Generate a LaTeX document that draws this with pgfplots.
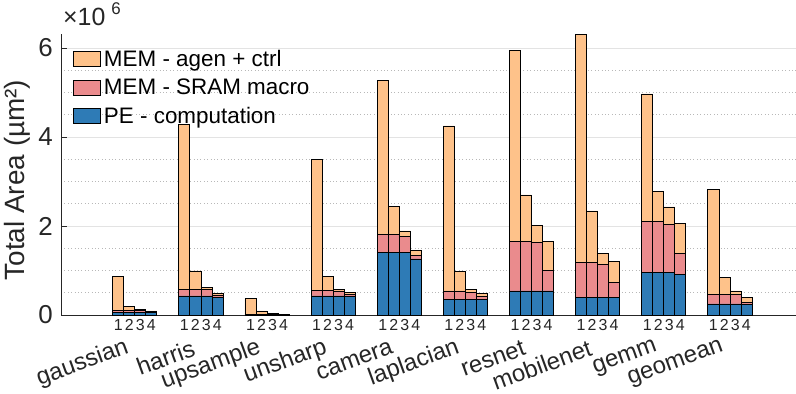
\documentclass[border=0pt]{standalone}
\usepackage{fontspec}
\setmainfont{Liberation Sans}
\usepackage{pgfplots}
\usepackage{pgfplotstable}
\pgfplotsset{compat=1.18}
\definecolor{cagen}{RGB}{254,194,138}
\definecolor{csram}{RGB}{234,139,141}
\definecolor{cpe}{RGB}{46,123,182}
\definecolor{axgray}{RGB}{38,38,38}

% values in units of 10^6 um^2 ; pe = PE computation, sram = SRAM macro, agen = agen + ctrl (stack increments)
\pgfplotstableread{
x   pe     sram   agen
1   0.06   0.05   0.75
2   0.06   0.05   0.08
3   0.06   0.04   0.03
4   0.06   0.02   0.01
7   0.43   0.15   3.71
8   0.43   0.15   0.41
9   0.43   0.14   0.05
10  0.39   0.06   0.04
13  0.01   0.01   0.35
14  0.01   0.01   0.07
15  0.005  0.005  0.03
16  0.005  0.005  0.01
19  0.43   0.13   2.94
20  0.43   0.13   0.30
21  0.43   0.11   0.04
22  0.42   0.04   0.05
25  1.41   0.40   3.47
26  1.41   0.40   0.63
27  1.41   0.36   0.12
28  1.26   0.08   0.12
31  0.35   0.19   3.71
32  0.35   0.19   0.43
33  0.35   0.15   0.08
34  0.35   0.07   0.07
37  0.54   1.12   4.28
38  0.54   1.12   1.04
39  0.54   1.09   0.39
40  0.54   0.47   0.65
43  0.40   0.78   5.12
44  0.40   0.78   1.16
45  0.40   0.74   0.25
46  0.40   0.33   0.48
49  0.95   1.16   2.86
50  0.95   1.16   0.66
51  0.95   1.09   0.39
52  0.92   0.47   0.66
55  0.25   0.21   2.37
56  0.25   0.21   0.38
57  0.25   0.21   0.08
58  0.24   0.05   0.11
}\areadata

\pgfplotsset{myleg/.style={legend image code/.code={\draw[##1, line width=0.8bp] (0bp,-7.5bp) rectangle (27bp,7.5bp);}}}

\begin{document}
\begin{tikzpicture}
\begin{axis}[
  scale only axis, width=735bp, height=281.2bp,
  xmin=-4.19, xmax=62.5, ymin=0, ymax=6.32,
  clip=false,
  ybar stacked, bar width=1,
  axis x line*=bottom, axis y line*=left,
  axis line style={axgray, line width=0.8bp},
  tick align=inside,
  tick style={axgray, line width=0.8bp},
  major tick length=6bp, minor tick length=0pt,
  xtick={1,2,3,4,7,8,9,10,13,14,15,16,19,20,21,22,25,26,27,28,31,32,33,34,37,38,39,40,43,44,45,46,49,50,51,52,55,56,57,58},
  xticklabels={1,2,3,4,1,2,3,4,1,2,3,4,1,2,3,4,1,2,3,4,1,2,3,4,1,2,3,4,1,2,3,4,1,2,3,4,1,2,3,4},
  xtick style={draw=none},
  xticklabel style={font=\fontsize{16}{16}\selectfont, inner sep=0pt, yshift=-4bp, text=black!85},
  extra x ticks={2.5,8.5,14.5,20.5,26.5,32.5,38.5,44.5,50.5,56.5},
  extra x tick labels={gaussian,harris,upsample,unsharp,camera,laplacian,resnet,mobilenet,gemm,geomean},
  extra x tick style={grid=none, xtick style={draw=none},
    xticklabel style={font=\fontsize{24}{24}\selectfont, xshift=-7bp, yshift=-28bp, rotate=20, anchor=east, inner sep=0pt, text=black!85}},
  ytick={0,2,4,6},
  minor y tick num=3,
  ymajorgrids, yminorgrids,
  major grid style={line width=1bp, color=black!11},
  minor grid style={line width=0.8bp, color=black!28, dash pattern=on 0.8bp off 2.6bp},
  yticklabel style={font=\fontsize{26}{26}\selectfont, inner sep=0pt, xshift=-8bp, text=black!85},
  /pgf/number format/assume math mode=true,
  ylabel={Total Area (µm²)},
  ylabel style={font=\fontsize{28}{28}\selectfont, at={(axis description cs:-0.0592,0.48)}, anchor=center, text=black!85},
  legend style={at={(0,1)}, anchor=north west, xshift=12bp, yshift=-16bp, draw=none, fill=none,
    font=\fontsize{22.5}{22.5}\selectfont, row sep=10.5bp, column sep=3bp, inner sep=0pt,
    nodes={inner sep=0pt, text depth=0.2em}, cells={anchor=west}},
  reverse legend,
]
\addplot[fill=cpe, draw=black, line width=0.7bp, myleg] table[x=x, y=pe] {\areadata};
\addplot[fill=csram, draw=black, line width=0.7bp, myleg] table[x=x, y=sram] {\areadata};
\addplot[fill=cagen, draw=black, line width=0.7bp, myleg] table[x=x, y=agen] {\areadata};
\legend{PE - computation, MEM - SRAM macro, MEM - agen + ctrl}
\node[anchor=base west, inner sep=0pt, font=\fontsize{25}{25}\selectfont, text=black!85] at (rel axis cs:0,1) [xshift=2bp, yshift=8bp] {×10\hspace{6bp}\raisebox{11bp}{\fontsize{17}{17}\selectfont 6}};
\end{axis}
\pgfresetboundingbox
\path[use as bounding box] (-61bp,-79bp) rectangle (735bp,315bp);
\end{tikzpicture}
\end{document}
